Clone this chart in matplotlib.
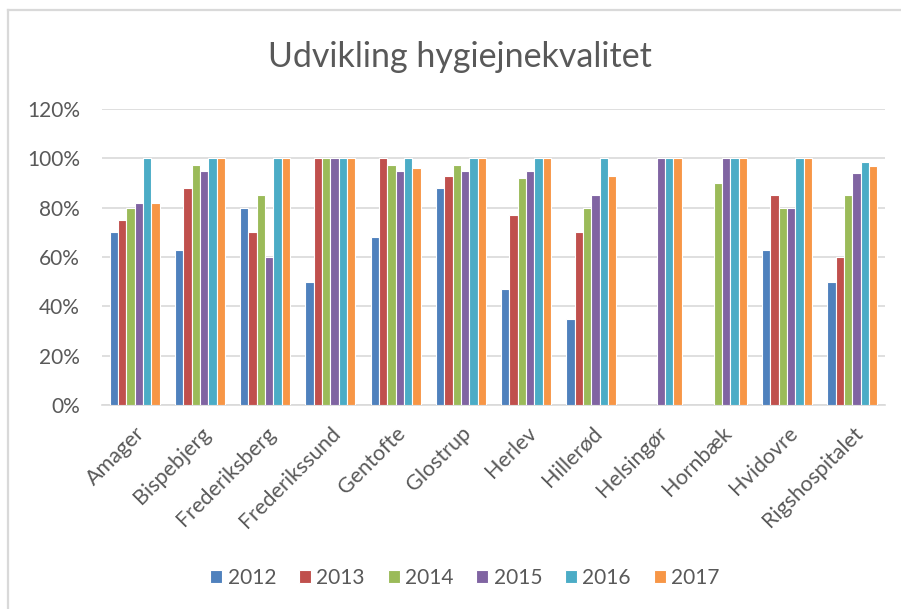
import numpy as np
import matplotlib
matplotlib.use('Agg')
from matplotlib import pyplot as plt
from matplotlib.lines import Line2D

plt.rcParams['font.family'] = ['Lato', 'DejaVu Sans']

hospitals = ['Amager', 'Bispebjerg', 'Frederiksberg', 'Frederikssund', 'Gentofte',
             'Glostrup', 'Herlev', 'Hillerød', 'Helsingør', 'Hornbæk', 'Hvidovre',
             'Rigshospitalet']
years = ['2012', '2013', '2014', '2015', '2016', '2017']
nan = np.nan
# values in percent, one list per year (nan = no data)
v2012 = [70, 63, 80, 50, 68, 88, 47, 35, nan, nan, 63, 50]
v2013 = [75, 88, 70, 100, 100, 93, 77, 70, nan, nan, 85, 60]
v2014 = [80, 97.5, 85, 100, 97.5, 97.5, 92, 80, nan, 90, 80, 85]
v2015 = [82, 95, 60, 100, 95, 95, 95, 85, 100, 100, 80, 94]
v2016 = [100, 100, 100, 100, 100, 100, 100, 100, 100, 100, 100, 98.5]
v2017 = [82, 100, 100, 100, 96, 100, 100, 93, 100, 100, 100, 97]
series = [v2012, v2013, v2014, v2015, v2016, v2017]
colors = ['#4F81BD', '#C0504D', '#9BBB59', '#8064A2', '#4BACC6', '#F79646']

W, H = 901, 609
fig = plt.figure(figsize=(W / 100, H / 100), dpi=100)
ax = fig.add_axes([102 / W, (H - 405) / H, (885 - 102) / W, (405 - 109) / H])

x = np.arange(len(hospitals))
bw = 0.128
for i, (vals, c) in enumerate(zip(series, colors)):
    ax.bar(x + (i - 2.5) * bw, np.array(vals) / 100, bw, color=c,
           edgecolor='white', linewidth=0.8, label=years[i], zorder=3)

ax.set_xlim(-0.5, len(hospitals) - 0.5)
ax.set_ylim(0, 1.2)
ax.set_yticks(np.arange(0, 1.21, 0.2))
ax.set_yticklabels(['%d%%' % round(t * 100) for t in np.arange(0, 1.21, 0.2)])
ax.set_xticks(x)
ax.set_xticklabels(hospitals, rotation=45, ha='right', rotation_mode='anchor')
ax.tick_params(length=0, labelsize=15, labelcolor='#595959')
ax.tick_params(axis='x', labelsize=15.5, pad=13)
ax.tick_params(axis='y', pad=16)
ax.yaxis.grid(True, color='#D9D9D9', linewidth=1.2, zorder=0)
ax.set_axisbelow(True)
for s in ['top', 'right', 'left']:
    ax.spines[s].set_visible(False)
ax.spines['bottom'].set_color('#D9D9D9')
ax.spines['bottom'].set_linewidth(1.2)

fig.text(0.511, (H - 67) / H, 'Udvikling hygiejnekvalitet', ha='center', va='baseline',
         fontsize=24.5, color='#595959')

fig.legend(loc='center', bbox_to_anchor=(0.516, (H - 578) / H), ncol=6, frameon=False,
           fontsize=15, labelcolor='#595959', handlelength=0.58, handleheight=0.58,
           handletextpad=0.25, columnspacing=1.1)

# chart-area border (top and left edges visible)
fig.add_artist(Line2D([8 / W, 1], [(H - 10) / H, (H - 10) / H], color='#D9D9D9', lw=1.6))
fig.add_artist(Line2D([8 / W, 8 / W], [0, (H - 10) / H], color='#D9D9D9', lw=1.6))

fig.savefig('out.png', dpi=100)
